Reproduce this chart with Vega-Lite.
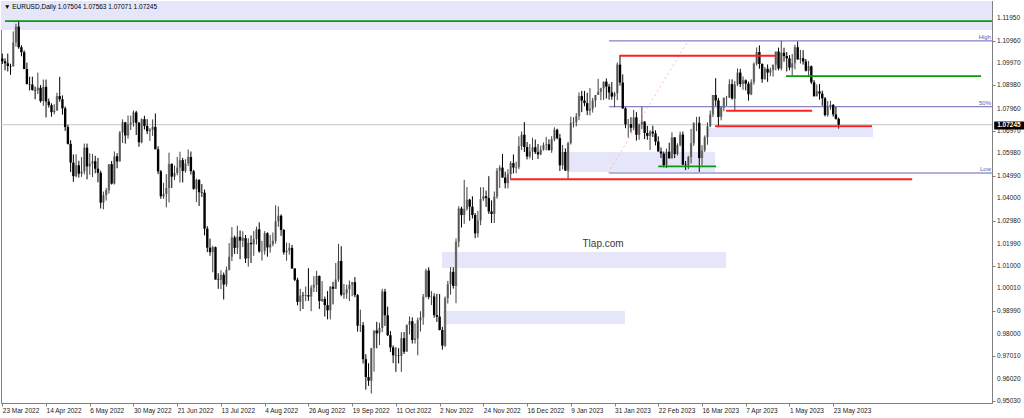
{
"$schema":"https://vega.github.io/schema/vega-lite/v6.json",
"width":991,"height":402,
"autosize":{"type":"none"},
"padding":{"left":1,"top":1,"right":32,"bottom":15},
"background":"#ffffff",
"config":{"view":{"stroke":"#808080","strokeWidth":1},"font":"Liberation Sans"},
"datasets":{
"yticks":[{"p":0.9503},{"p":0.9602},{"p":0.9701},{"p":0.98},{"p":0.9899},{"p":1.0001},{"p":1.01},{"p":1.0199},{"p":1.0298},{"p":1.04},{"p":1.0499},{"p":1.0598},{"p":1.0697},{"p":1.0796},{"p":1.0898},{"p":1.0997},{"p":1.1096},{"p":1.1195}],
"zones":[
{"name":"top","i":-0.476,"i2":362.1,"p":1.1143,"p2":1.12714},
{"name":"jan-mar","i":206.6,"i2":260.8,"p":1.0515,"p2":1.0604},
{"name":"may","i":258.2,"i2":318.6,"p":1.067,"p2":1.071},
{"name":"nov-a","i":160.9,"i2":264.8,"p":1.0091,"p2":1.0162},
{"name":"nov-b","i":161.3,"i2":227.8,"p":0.9843,"p2":0.9901}
],
"levels":[
{"kind":"bid","i":-0.476,"i2":362.1,"p":1.07245,"label":""},
{"kind":"support","i":1,"i2":362.1,"p":1.1182,"label":""},
{"kind":"resistance","i":226,"i2":282.7,"p":1.1029,"label":""},
{"kind":"resistance","i":185.8,"i2":332.9,"p":1.0483,"label":""},
{"kind":"resistance","i":264.8,"i2":296.3,"p":1.0786,"label":""},
{"kind":"resistance","i":260.8,"i2":318.2,"p":1.0718,"label":""},
{"kind":"support","i":286.7,"i2":358.1,"p":1.0939,"label":""},
{"kind":"support","i":240,"i2":261.2,"p":1.054,"label":""},
{"kind":"fibo","i":222,"i2":362.1,"p":1.1095,"label":"High"},
{"kind":"fibo","i":222,"i2":362.1,"p":1.0804,"label":"50%"},
{"kind":"fibo","i":222,"i2":362.1,"p":1.0511,"label":"Low"}
],
"trend":[{"i":221.6,"p":1.0511,"i2":250.9,"p2":1.1095}],
"notes":[
{"role":"header","text":"▼ EURUSD,Daily  1.07504 1.07563 1.07071 1.07245","i":0.6,"p":1.12448},
{"role":"watermark","text":"Tlap.com","i":219.8,"p":1.0197}
],
"tag":[{"i":362.9,"i2":373.8,"p":1.07033,"p2":1.07386,"ti":364.0,"tp":1.0721,"text":"1.07245"}],
"candles":[
{"i":0,"o":1.1017,"h":1.1039,"l":1.0993,"c":1.1005},
{"i":1,"o":1.1005,"h":1.1018,"l":1.0965,"c":1.0996},
{"i":2,"o":1.0996,"h":1.1039,"l":1.0960,"c":1.0984},
{"i":3,"o":1.0984,"h":1.0994,"l":1.0945,"c":1.0982},
{"i":4,"o":1.0982,"h":1.1137,"l":1.0982,"c":1.1088},
{"i":5,"o":1.1088,"h":1.1171,"l":1.1070,"c":1.1158},
{"i":6,"o":1.1158,"h":1.1185,"l":1.1060,"c":1.1067},
{"i":7,"o":1.1067,"h":1.1076,"l":1.1027,"c":1.1045},
{"i":8,"o":1.1045,"h":1.1053,"l":1.0970,"c":1.0971},
{"i":9,"o":1.0971,"h":1.0999,"l":1.0903,"c":1.0904},
{"i":10,"o":1.0904,"h":1.0937,"l":1.0876,"c":1.0902},
{"i":11,"o":1.0902,"h":1.0937,"l":1.0875,"c":1.0878},
{"i":12,"o":1.0878,"h":1.0893,"l":1.0837,"c":1.0876},
{"i":13,"o":1.0876,"h":1.0955,"l":1.0860,"c":1.0888},
{"i":14,"o":1.0888,"h":1.0900,"l":1.0822,"c":1.0829},
{"i":15,"o":1.0829,"h":1.0924,"l":1.0808,"c":1.0892},
{"i":16,"o":1.0892,"h":1.0924,"l":1.0757,"c":1.0827},
{"i":17,"o":1.0827,"h":1.0840,"l":1.0800,"c":1.0811},
{"i":18,"o":1.0811,"h":1.0819,"l":1.0760,"c":1.0780},
{"i":19,"o":1.0780,"h":1.0815,"l":1.0770,"c":1.0787},
{"i":20,"o":1.0787,"h":1.0866,"l":1.0786,"c":1.0851},
{"i":21,"o":1.0851,"h":1.0936,"l":1.0826,"c":1.0837},
{"i":22,"o":1.0837,"h":1.0854,"l":1.0769,"c":1.0797},
{"i":23,"o":1.0797,"h":1.0805,"l":1.0697,"c":1.0714},
{"i":24,"o":1.0714,"h":1.0724,"l":1.0637,"c":1.0640},
{"i":25,"o":1.0640,"h":1.0656,"l":1.0515,"c":1.0557},
{"i":26,"o":1.0557,"h":1.0593,"l":1.0472,"c":1.0497},
{"i":27,"o":1.0497,"h":1.0594,"l":1.0492,"c":1.0545},
{"i":28,"o":1.0545,"h":1.0565,"l":1.0491,"c":1.0508},
{"i":29,"o":1.0508,"h":1.0581,"l":1.0494,"c":1.0518},
{"i":30,"o":1.0518,"h":1.0641,"l":1.0505,"c":1.0623},
{"i":31,"o":1.0623,"h":1.0641,"l":1.0483,"c":1.0540},
{"i":32,"o":1.0540,"h":1.0598,"l":1.0503,"c":1.0552},
{"i":33,"o":1.0552,"h":1.0595,"l":1.0493,"c":1.0563},
{"i":34,"o":1.0563,"h":1.0587,"l":1.0510,"c":1.0530},
{"i":35,"o":1.0530,"h":1.0578,"l":1.0470,"c":1.0512},
{"i":36,"o":1.0512,"h":1.0521,"l":1.0354,"c":1.0380},
{"i":37,"o":1.0380,"h":1.0429,"l":1.0350,"c":1.0413},
{"i":38,"o":1.0413,"h":1.0445,"l":1.0389,"c":1.0435},
{"i":39,"o":1.0435,"h":1.0550,"l":1.0420,"c":1.0550},
{"i":40,"o":1.0550,"h":1.0564,"l":1.0460,"c":1.0464},
{"i":41,"o":1.0464,"h":1.0606,"l":1.0460,"c":1.0585},
{"i":42,"o":1.0585,"h":1.0599,"l":1.0532,"c":1.0562},
{"i":43,"o":1.0562,"h":1.0697,"l":1.0562,"c":1.0690},
{"i":44,"o":1.0690,"h":1.0748,"l":1.0644,"c":1.0735},
{"i":45,"o":1.0735,"h":1.0737,"l":1.0641,"c":1.0677},
{"i":46,"o":1.0677,"h":1.0765,"l":1.0663,"c":1.0725},
{"i":47,"o":1.0725,"h":1.0765,"l":1.0701,"c":1.0733},
{"i":48,"o":1.0733,"h":1.0787,"l":1.0716,"c":1.0779},
{"i":49,"o":1.0779,"h":1.0786,"l":1.0679,"c":1.0733},
{"i":50,"o":1.0733,"h":1.0737,"l":1.0627,"c":1.0647},
{"i":51,"o":1.0647,"h":1.0752,"l":1.0642,"c":1.0749},
{"i":52,"o":1.0749,"h":1.0764,"l":1.0703,"c":1.0719},
{"i":53,"o":1.0719,"h":1.0749,"l":1.0683,"c":1.0696},
{"i":54,"o":1.0696,"h":1.0710,"l":1.0653,"c":1.0702},
{"i":55,"o":1.0702,"h":1.0748,"l":1.0675,"c":1.0715},
{"i":56,"o":1.0715,"h":1.0774,"l":1.0616,"c":1.0616},
{"i":57,"o":1.0616,"h":1.0629,"l":1.0506,"c":1.0518},
{"i":58,"o":1.0518,"h":1.0524,"l":1.0397,"c":1.0408},
{"i":59,"o":1.0408,"h":1.0468,"l":1.0397,"c":1.0418},
{"i":60,"o":1.0418,"h":1.0506,"l":1.0359,"c":1.0445},
{"i":61,"o":1.0445,"h":1.0601,"l":1.0381,"c":1.0551},
{"i":62,"o":1.0551,"h":1.0554,"l":1.0445,"c":1.0495},
{"i":63,"o":1.0495,"h":1.0544,"l":1.0480,"c":1.0511},
{"i":64,"o":1.0511,"h":1.0582,"l":1.0501,"c":1.0535},
{"i":65,"o":1.0535,"h":1.0605,"l":1.0469,"c":1.0568},
{"i":66,"o":1.0568,"h":1.0578,"l":1.0469,"c":1.0520},
{"i":67,"o":1.0520,"h":1.0572,"l":1.0512,"c":1.0553},
{"i":68,"o":1.0553,"h":1.0615,"l":1.0542,"c":1.0582},
{"i":69,"o":1.0582,"h":1.0606,"l":1.0504,"c":1.0519},
{"i":70,"o":1.0519,"h":1.0525,"l":1.0437,"c":1.0441},
{"i":71,"o":1.0441,"h":1.0486,"l":1.0382,"c":1.0480},
{"i":72,"o":1.0480,"h":1.0484,"l":1.0365,"c":1.0426},
{"i":73,"o":1.0426,"h":1.0462,"l":1.0405,"c":1.0424},
{"i":74,"o":1.0424,"h":1.0438,"l":1.0235,"c":1.0265},
{"i":75,"o":1.0265,"h":1.0276,"l":1.0161,"c":1.0181},
{"i":76,"o":1.0181,"h":1.0221,"l":1.0145,"c":1.0161},
{"i":77,"o":1.0161,"h":1.0189,"l":1.0072,"c":1.0183},
{"i":78,"o":1.0183,"h":1.0186,"l":1.0040,"c":1.0040},
{"i":79,"o":1.0040,"h":1.0068,"l":0.9999,"c":1.0038},
{"i":80,"o":1.0038,"h":1.0081,"l":0.9998,"c":1.0061},
{"i":81,"o":1.0061,"h":1.0071,"l":0.9952,"c":1.0018},
{"i":82,"o":1.0018,"h":1.0097,"l":1.0008,"c":1.0083},
{"i":83,"o":1.0083,"h":1.0201,"l":1.0080,"c":1.0141},
{"i":84,"o":1.0141,"h":1.0272,"l":1.0122,"c":1.0226},
{"i":85,"o":1.0226,"h":1.0234,"l":1.0153,"c":1.0180},
{"i":86,"o":1.0180,"h":1.0278,"l":1.0153,"c":1.0229},
{"i":87,"o":1.0229,"h":1.0257,"l":1.0130,"c":1.0212},
{"i":88,"o":1.0212,"h":1.0254,"l":1.0184,"c":1.0223},
{"i":89,"o":1.0223,"h":1.0237,"l":1.0113,"c":1.0133},
{"i":90,"o":1.0133,"h":1.0223,"l":1.0097,"c":1.0202},
{"i":91,"o":1.0202,"h":1.0235,"l":1.0113,"c":1.0196},
{"i":92,"o":1.0196,"h":1.0254,"l":1.0145,"c":1.0219},
{"i":93,"o":1.0219,"h":1.0274,"l":1.0195,"c":1.0262},
{"i":94,"o":1.0262,"h":1.0293,"l":1.0159,"c":1.0164},
{"i":95,"o":1.0164,"h":1.0211,"l":1.0124,"c":1.0166},
{"i":96,"o":1.0166,"h":1.0254,"l":1.0150,"c":1.0245},
{"i":97,"o":1.0245,"h":1.0249,"l":1.0141,"c":1.0182},
{"i":98,"o":1.0182,"h":1.0237,"l":1.0159,"c":1.0195},
{"i":99,"o":1.0195,"h":1.0248,"l":1.0187,"c":1.0211},
{"i":100,"o":1.0211,"h":1.0368,"l":1.0199,"c":1.0297},
{"i":101,"o":1.0297,"h":1.0363,"l":1.0273,"c":1.0322},
{"i":102,"o":1.0322,"h":1.0328,"l":1.0233,"c":1.0259},
{"i":103,"o":1.0259,"h":1.0263,"l":1.0150,"c":1.0160},
{"i":104,"o":1.0160,"h":1.0203,"l":1.0123,"c":1.0168},
{"i":105,"o":1.0168,"h":1.0201,"l":1.0150,"c":1.0180},
{"i":106,"o":1.0180,"h":1.0193,"l":1.0088,"c":1.0089},
{"i":107,"o":1.0089,"h":1.0090,"l":1.0033,"c":1.0039},
{"i":108,"o":1.0039,"h":1.0048,"l":0.9926,"c":0.9941},
{"i":109,"o":0.9941,"h":0.9999,"l":0.9900,"c":0.9969},
{"i":110,"o":0.9969,"h":0.9985,"l":0.9910,"c":0.9967},
{"i":111,"o":0.9967,"h":1.0009,"l":0.9945,"c":0.9971},
{"i":112,"o":0.9971,"h":1.0090,"l":0.9946,"c":0.9965},
{"i":113,"o":0.9965,"h":1.0015,"l":0.9900,"c":1.0004},
{"i":114,"o":1.0004,"h":1.0055,"l":0.9985,"c":1.0017},
{"i":115,"o":1.0017,"h":1.0079,"l":0.9985,"c":1.0056},
{"i":116,"o":1.0056,"h":1.0058,"l":0.9910,"c":0.9945},
{"i":117,"o":0.9945,"h":1.0033,"l":0.9941,"c":0.9954},
{"i":118,"o":0.9954,"h":0.9965,"l":0.9876,"c":0.9927},
{"i":119,"o":0.9927,"h":0.9989,"l":0.9864,"c":0.9904},
{"i":120,"o":0.9904,"h":1.0011,"l":0.9864,"c":1.0008},
{"i":121,"o":1.0008,"h":1.0030,"l":0.9930,"c":0.9999},
{"i":122,"o":0.9999,"h":1.0113,"l":0.9999,"c":1.0040},
{"i":123,"o":1.0040,"h":1.0198,"l":1.0030,"c":1.0122},
{"i":124,"o":1.0122,"h":1.0187,"l":0.9966,"c":0.9973},
{"i":125,"o":0.9973,"h":1.0020,"l":0.9955,"c":0.9980},
{"i":126,"o":0.9980,"h":1.0017,"l":0.9955,"c":0.9997},
{"i":127,"o":0.9997,"h":1.0036,"l":0.9945,"c":1.0017},
{"i":128,"o":1.0017,"h":1.0030,"l":0.9966,"c":1.0028},
{"i":129,"o":1.0028,"h":1.0051,"l":0.9962,"c":0.9971},
{"i":130,"o":0.9971,"h":0.9976,"l":0.9810,"c":0.9836},
{"i":131,"o":0.9836,"h":0.9907,"l":0.9808,"c":0.9838},
{"i":132,"o":0.9838,"h":0.9852,"l":0.9669,"c":0.9688},
{"i":133,"o":0.9688,"h":0.9710,"l":0.9553,"c":0.9609},
{"i":134,"o":0.9609,"h":0.9670,"l":0.9570,"c":0.9593},
{"i":135,"o":0.9593,"h":0.9738,"l":0.9536,"c":0.9736},
{"i":136,"o":0.9736,"h":0.9815,"l":0.9633,"c":0.9815},
{"i":137,"o":0.9815,"h":0.9853,"l":0.9736,"c":0.9802},
{"i":138,"o":0.9802,"h":0.9849,"l":0.9750,"c":0.9826},
{"i":139,"o":0.9826,"h":0.9999,"l":0.9808,"c":0.9987},
{"i":140,"o":0.9987,"h":0.9999,"l":0.9835,"c":0.9882},
{"i":141,"o":0.9882,"h":0.9920,"l":0.9790,"c":0.9794},
{"i":142,"o":0.9794,"h":0.9812,"l":0.9720,"c":0.9740},
{"i":143,"o":0.9740,"h":0.9749,"l":0.9670,"c":0.9705},
{"i":144,"o":0.9705,"h":0.9741,"l":0.9632,"c":0.9704},
{"i":145,"o":0.9704,"h":0.9737,"l":0.9669,"c":0.9702},
{"i":146,"o":0.9702,"h":0.9807,"l":0.9632,"c":0.9781},
{"i":147,"o":0.9781,"h":0.9808,"l":0.9711,"c":0.9721},
{"i":148,"o":0.9721,"h":0.9841,"l":0.9721,"c":0.9840},
{"i":149,"o":0.9840,"h":0.9877,"l":0.9797,"c":0.9856},
{"i":150,"o":0.9856,"h":0.9873,"l":0.9757,"c":0.9773},
{"i":151,"o":0.9773,"h":0.9846,"l":0.9757,"c":0.9780},
{"i":152,"o":0.9780,"h":0.9871,"l":0.9705,"c":0.9860},
{"i":153,"o":0.9860,"h":0.9900,"l":0.9810,"c":0.9873},
{"i":154,"o":0.9873,"h":0.9976,"l":0.9840,"c":0.9964},
{"i":155,"o":0.9964,"h":1.0088,"l":0.9960,"c":1.0080},
{"i":156,"o":1.0080,"h":1.0094,"l":0.9953,"c":0.9963},
{"i":157,"o":0.9963,"h":0.9989,"l":0.9927,"c":0.9965},
{"i":158,"o":0.9965,"h":0.9979,"l":0.9871,"c":0.9883},
{"i":159,"o":0.9883,"h":0.9977,"l":0.9853,"c":0.9876},
{"i":160,"o":0.9876,"h":0.9976,"l":0.9815,"c":0.9817},
{"i":161,"o":0.9817,"h":0.9831,"l":0.9730,"c":0.9748},
{"i":162,"o":0.9748,"h":0.9965,"l":0.9742,"c":0.9958},
{"i":163,"o":0.9958,"h":1.0034,"l":0.9934,"c":1.0019},
{"i":164,"o":1.0019,"h":1.0095,"l":0.9973,"c":1.0074},
{"i":165,"o":1.0074,"h":1.0094,"l":1.0000,"c":1.0012},
{"i":166,"o":1.0012,"h":1.0222,"l":0.9935,"c":1.0207},
{"i":167,"o":1.0207,"h":1.0364,"l":1.0183,"c":1.0354},
{"i":168,"o":1.0354,"h":1.0362,"l":1.0270,"c":1.0325},
{"i":169,"o":1.0325,"h":1.0481,"l":1.0286,"c":1.0352},
{"i":170,"o":1.0352,"h":1.0449,"l":1.0345,"c":1.0393},
{"i":171,"o":1.0393,"h":1.0397,"l":1.0300,"c":1.0362},
{"i":172,"o":1.0362,"h":1.0408,"l":1.0310,"c":1.0325},
{"i":173,"o":1.0325,"h":1.0334,"l":1.0223,"c":1.0244},
{"i":174,"o":1.0244,"h":1.0344,"l":1.0226,"c":1.0301},
{"i":175,"o":1.0301,"h":1.0448,"l":1.0280,"c":1.0396},
{"i":176,"o":1.0396,"h":1.0448,"l":1.0388,"c":1.0408},
{"i":177,"o":1.0408,"h":1.0433,"l":1.0361,"c":1.0400},
{"i":178,"o":1.0400,"h":1.0497,"l":1.0330,"c":1.0341},
{"i":179,"o":1.0341,"h":1.0390,"l":1.0290,"c":1.0330},
{"i":180,"o":1.0330,"h":1.0429,"l":1.0290,"c":1.0406},
{"i":181,"o":1.0406,"h":1.0533,"l":1.0397,"c":1.0522},
{"i":182,"o":1.0522,"h":1.0545,"l":1.0445,"c":1.0535},
{"i":183,"o":1.0535,"h":1.0595,"l":1.0490,"c":1.0491},
{"i":184,"o":1.0491,"h":1.0517,"l":1.0443,"c":1.0466},
{"i":185,"o":1.0466,"h":1.0528,"l":1.0443,"c":1.0506},
{"i":186,"o":1.0506,"h":1.0564,"l":1.0485,"c":1.0555},
{"i":187,"o":1.0555,"h":1.0593,"l":1.0509,"c":1.0535},
{"i":188,"o":1.0535,"h":1.0561,"l":1.0510,"c":1.0537},
{"i":189,"o":1.0537,"h":1.0673,"l":1.0528,"c":1.0630},
{"i":190,"o":1.0630,"h":1.0695,"l":1.0613,"c":1.0680},
{"i":191,"o":1.0680,"h":1.0736,"l":1.0604,"c":1.0626},
{"i":192,"o":1.0626,"h":1.0648,"l":1.0571,"c":1.0584},
{"i":193,"o":1.0584,"h":1.0639,"l":1.0575,"c":1.0606},
{"i":194,"o":1.0606,"h":1.0667,"l":1.0568,"c":1.0625},
{"i":195,"o":1.0625,"h":1.0659,"l":1.0595,"c":1.0603},
{"i":196,"o":1.0603,"h":1.0639,"l":1.0573,"c":1.0593},
{"i":197,"o":1.0593,"h":1.0632,"l":1.0590,"c":1.0614},
{"i":198,"o":1.0614,"h":1.0646,"l":1.0610,"c":1.0635},
{"i":199,"o":1.0635,"h":1.0671,"l":1.0611,"c":1.0638},
{"i":200,"o":1.0638,"h":1.0660,"l":1.0611,"c":1.0612},
{"i":201,"o":1.0612,"h":1.0674,"l":1.0600,"c":1.0660},
{"i":202,"o":1.0660,"h":1.0713,"l":1.0651,"c":1.0702},
{"i":203,"o":1.0702,"h":1.0707,"l":1.0660,"c":1.0665},
{"i":204,"o":1.0665,"h":1.0684,"l":1.0520,"c":1.0545},
{"i":205,"o":1.0545,"h":1.0635,"l":1.0527,"c":1.0604},
{"i":206,"o":1.0604,"h":1.0620,"l":1.0520,"c":1.0522},
{"i":207,"o":1.0522,"h":1.0649,"l":1.0483,"c":1.0643},
{"i":208,"o":1.0643,"h":1.0760,"l":1.0637,"c":1.0733},
{"i":209,"o":1.0733,"h":1.0758,"l":1.0712,"c":1.0736},
{"i":210,"o":1.0736,"h":1.0776,"l":1.0717,"c":1.0762},
{"i":211,"o":1.0762,"h":1.0867,"l":1.0745,"c":1.0851},
{"i":212,"o":1.0851,"h":1.0874,"l":1.0780,"c":1.0831},
{"i":213,"o":1.0831,"h":1.0874,"l":1.0806,"c":1.0820},
{"i":214,"o":1.0820,"h":1.0866,"l":1.0767,"c":1.0787},
{"i":215,"o":1.0787,"h":1.0887,"l":1.0766,"c":1.0795},
{"i":216,"o":1.0795,"h":1.0843,"l":1.0778,"c":1.0832},
{"i":217,"o":1.0832,"h":1.0856,"l":1.0802,"c":1.0856},
{"i":218,"o":1.0856,"h":1.0927,"l":1.0856,"c":1.0870},
{"i":219,"o":1.0870,"h":1.0888,"l":1.0833,"c":1.0885},
{"i":220,"o":1.0885,"h":1.0915,"l":1.0834,"c":1.0915},
{"i":221,"o":1.0915,"h":1.0929,"l":1.0840,"c":1.0893},
{"i":222,"o":1.0893,"h":1.0905,"l":1.0835,"c":1.0867},
{"i":223,"o":1.0867,"h":1.0913,"l":1.0835,"c":1.0849},
{"i":224,"o":1.0849,"h":1.0870,"l":1.0802,"c":1.0863},
{"i":225,"o":1.0863,"h":1.1000,"l":1.0833,"c":1.0990},
{"i":226,"o":1.0990,"h":1.1033,"l":1.0897,"c":1.0911},
{"i":227,"o":1.0911,"h":1.0947,"l":1.0794,"c":1.0797},
{"i":228,"o":1.0797,"h":1.0802,"l":1.0709,"c":1.0726},
{"i":229,"o":1.0726,"h":1.0750,"l":1.0668,"c":1.0727},
{"i":230,"o":1.0727,"h":1.0758,"l":1.0690,"c":1.0711},
{"i":231,"o":1.0711,"h":1.0790,"l":1.0700,"c":1.0757},
{"i":232,"o":1.0757,"h":1.0780,"l":1.0654,"c":1.0680},
{"i":233,"o":1.0680,"h":1.0730,"l":1.0658,"c":1.0725},
{"i":234,"o":1.0725,"h":1.0804,"l":1.0705,"c":1.0738},
{"i":235,"o":1.0738,"h":1.0740,"l":1.0661,"c":1.0688},
{"i":236,"o":1.0688,"h":1.0719,"l":1.0658,"c":1.0675},
{"i":237,"o":1.0675,"h":1.0700,"l":1.0613,"c":1.0694},
{"i":238,"o":1.0694,"h":1.0720,"l":1.0670,"c":1.0686},
{"i":239,"o":1.0686,"h":1.0700,"l":1.0633,"c":1.0650},
{"i":240,"o":1.0650,"h":1.0673,"l":1.0606,"c":1.0606},
{"i":241,"o":1.0606,"h":1.0624,"l":1.0577,"c":1.0597},
{"i":242,"o":1.0597,"h":1.0606,"l":1.0536,"c":1.0546},
{"i":243,"o":1.0546,"h":1.0619,"l":1.0533,"c":1.0605},
{"i":244,"o":1.0605,"h":1.0645,"l":1.0575,"c":1.0576},
{"i":245,"o":1.0576,"h":1.0691,"l":1.0575,"c":1.0668},
{"i":246,"o":1.0668,"h":1.0670,"l":1.0577,"c":1.0595},
{"i":247,"o":1.0595,"h":1.0642,"l":1.0588,"c":1.0635},
{"i":248,"o":1.0635,"h":1.0694,"l":1.0629,"c":1.0681},
{"i":249,"o":1.0681,"h":1.0694,"l":1.0546,"c":1.0548},
{"i":250,"o":1.0548,"h":1.0564,"l":1.0524,"c":1.0546},
{"i":251,"o":1.0546,"h":1.0587,"l":1.0528,"c":1.0582},
{"i":252,"o":1.0582,"h":1.0706,"l":1.0553,"c":1.0643},
{"i":253,"o":1.0643,"h":1.0735,"l":1.0631,"c":1.0732},
{"i":254,"o":1.0732,"h":1.0759,"l":1.0696,"c":1.0733},
{"i":255,"o":1.0733,"h":1.0760,"l":1.0516,"c":1.0577},
{"i":256,"o":1.0577,"h":1.0634,"l":1.0545,"c":1.0611},
{"i":257,"o":1.0611,"h":1.0677,"l":1.0604,"c":1.0669},
{"i":258,"o":1.0669,"h":1.0735,"l":1.0636,"c":1.0718},
{"i":259,"o":1.0718,"h":1.0787,"l":1.0713,"c":1.0770},
{"i":260,"o":1.0770,"h":1.0856,"l":1.0758,"c":1.0856},
{"i":261,"o":1.0856,"h":1.0930,"l":1.0808,"c":1.0832},
{"i":262,"o":1.0832,"h":1.0843,"l":1.0713,"c":1.0759},
{"i":263,"o":1.0759,"h":1.0807,"l":1.0744,"c":1.0800},
{"i":264,"o":1.0800,"h":1.0845,"l":1.0784,"c":1.0843},
{"i":265,"o":1.0843,"h":1.0852,"l":1.0807,"c":1.0844},
{"i":266,"o":1.0844,"h":1.0925,"l":1.0843,"c":1.0904},
{"i":267,"o":1.0904,"h":1.0925,"l":1.0835,"c":1.0840},
{"i":268,"o":1.0840,"h":1.0918,"l":1.0788,"c":1.0902},
{"i":269,"o":1.0902,"h":1.0973,"l":1.0895,"c":1.0955},
{"i":270,"o":1.0955,"h":1.0972,"l":1.0891,"c":1.0904},
{"i":271,"o":1.0904,"h":1.0938,"l":1.0879,"c":1.0921},
{"i":272,"o":1.0921,"h":1.0925,"l":1.0876,"c":1.0906},
{"i":273,"o":1.0906,"h":1.0915,"l":1.0831,"c":1.0859},
{"i":274,"o":1.0859,"h":1.0925,"l":1.0855,"c":1.0912},
{"i":275,"o":1.0912,"h":1.1000,"l":1.0902,"c":1.0994},
{"i":276,"o":1.0994,"h":1.1066,"l":1.0986,"c":1.1046},
{"i":277,"o":1.1046,"h":1.1075,"l":1.0972,"c":1.0993},
{"i":278,"o":1.0993,"h":1.0996,"l":1.0910,"c":1.0926},
{"i":279,"o":1.0926,"h":1.0980,"l":1.0924,"c":1.0972},
{"i":280,"o":1.0972,"h":1.0991,"l":1.0914,"c":1.0955},
{"i":281,"o":1.0955,"h":1.0977,"l":1.0939,"c":1.0966},
{"i":282,"o":1.0966,"h":1.0990,"l":1.0937,"c":1.0990},
{"i":283,"o":1.0990,"h":1.1048,"l":1.0965,"c":1.1048},
{"i":284,"o":1.1048,"h":1.1065,"l":1.0965,"c":1.0973},
{"i":285,"o":1.0973,"h":1.1095,"l":1.0965,"c":1.1043},
{"i":286,"o":1.1043,"h":1.1065,"l":1.1003,"c":1.1028},
{"i":287,"o":1.1028,"h":1.1046,"l":1.0960,"c":1.1018},
{"i":288,"o":1.1018,"h":1.1032,"l":1.0965,"c":1.0977},
{"i":289,"o":1.0977,"h":1.1037,"l":1.0943,"c":1.0996},
{"i":290,"o":1.0996,"h":1.1078,"l":1.0969,"c":1.1067},
{"i":291,"o":1.1067,"h":1.1092,"l":1.1012,"c":1.1013},
{"i":292,"o":1.1013,"h":1.1055,"l":1.0995,"c":1.1018},
{"i":293,"o":1.1018,"h":1.1054,"l":1.0990,"c":1.1004},
{"i":294,"o":1.1004,"h":1.1015,"l":1.0960,"c":1.0963},
{"i":295,"o":1.0963,"h":1.1006,"l":1.0939,"c":1.0983},
{"i":296,"o":1.0983,"h":1.0986,"l":1.0904,"c":1.0912},
{"i":297,"o":1.0912,"h":1.0922,"l":1.0850,"c":1.0850},
{"i":298,"o":1.0850,"h":1.0903,"l":1.0850,"c":1.0872},
{"i":299,"o":1.0872,"h":1.0904,"l":1.0835,"c":1.0862},
{"i":300,"o":1.0862,"h":1.0875,"l":1.0808,"c":1.0841},
{"i":301,"o":1.0841,"h":1.0847,"l":1.0761,"c":1.0767},
{"i":302,"o":1.0767,"h":1.0829,"l":1.0760,"c":1.0806},
{"i":303,"o":1.0806,"h":1.0830,"l":1.0790,"c":1.0812},
{"i":304,"o":1.0812,"h":1.0816,"l":1.0760,"c":1.0770},
{"i":305,"o":1.0770,"h":1.0803,"l":1.0747,"c":1.0750},
{"i":306,"o":1.07504,"h":1.07563,"l":1.07071,"c":1.07245}
]
},
"layer":[
{"data":{"name":"zones"},"mark":{"type":"rect","color":"#e6e6fa"},
"encoding":{
"x":{"field":"i","type":"quantitative","title":null,"scale":{"domain":[-0.476,362.1],"nice":false,"zero":false},
"axis":{"values":[0,16,32,48,64,80,96,112,128,144,160,176,192,208,224,240,256,272,288,304],
"labelExpr":"['23 Mar 2022','14 Apr 2022','6 May 2022','30 May 2022','21 Jun 2022','13 Jul 2022','4 Aug 2022','26 Aug 2022','19 Sep 2022','11 Oct 2022','2 Nov 2022','24 Nov 2022','16 Dec 2022','9 Jan 2023','31 Jan 2023','22 Feb 2023','16 Mar 2023','7 Apr 2023','1 May 2023','23 May 2023'][round(datum.value / 16)]",
"labelAlign":"left","labelFont":"Liberation Sans","labelFontSize":6.5,"labelColor":"#1a1a1a","tickSize":3,"tickColor":"#808080","domainColor":"#808080","labelPadding":1,"grid":false,"labelOverlap":false,"labelFlush":false,"title":null}},
"x2":{"field":"i2"},
"y":{"field":"p","type":"quantitative","title":null,"scale":{"domain":[0.94942,1.12714],"nice":false,"zero":false},
"axis":{"orient":"right","values":[0.9503,0.9602,0.9701,0.98,0.9899,1.0001,1.01,1.0199,1.0298,1.04,1.0499,1.0598,1.0697,1.0796,1.0898,1.0997,1.1096,1.1195],
"labels":false,"tickSize":3,"tickColor":"#808080","domainColor":"#808080","grid":false,"title":null}},
"y2":{"field":"p2"}}},
{"data":{"name":"levels"},"transform":[{"filter":"datum.kind == 'bid' || datum.kind == 'fibo'"}],
"mark":{"type":"rule","strokeWidth":1},
"encoding":{
"x":{"field":"i","type":"quantitative","title":null,"scale":{"domain":[-0.476,362.1],"nice":false,"zero":false}},
"x2":{"field":"i2"},
"y":{"field":"p","type":"quantitative","title":null,"scale":{"domain":[0.94942,1.12714],"nice":false,"zero":false}},
"color":{"condition":{"test":"datum.kind == 'bid'","value":"#c4c4c4"},"value":"#6464b8"}}},
{"data":{"name":"trend"},"mark":{"type":"rule","color":"#ffbcbc","strokeDash":[2,3],"strokeWidth":1},
"encoding":{
"x":{"field":"i","type":"quantitative","title":null,"scale":{"domain":[-0.476,362.1],"nice":false,"zero":false}},
"x2":{"field":"i2"},
"y":{"field":"p","type":"quantitative","title":null,"scale":{"domain":[0.94942,1.12714],"nice":false,"zero":false}},
"y2":{"field":"p2"}}},
{"data":{"name":"candles"},"mark":{"type":"rule","strokeWidth":2.4,"strokeCap":"butt"},
"encoding":{
"x":{"field":"i","type":"quantitative","title":null,"scale":{"domain":[-0.476,362.1],"nice":false,"zero":false}},
"y":{"field":"o","type":"quantitative","title":null,"scale":{"domain":[0.94942,1.12714],"nice":false,"zero":false}},
"y2":{"field":"c"},
"color":{"condition":{"test":"datum.c >= datum.o","value":"#8e8e8e"},"value":"#000000"}}},
{"data":{"name":"candles"},"mark":{"type":"rule","strokeWidth":1},
"encoding":{
"x":{"field":"i","type":"quantitative","title":null,"scale":{"domain":[-0.476,362.1],"nice":false,"zero":false}},
"y":{"field":"l","type":"quantitative","title":null,"scale":{"domain":[0.94942,1.12714],"nice":false,"zero":false}},
"y2":{"field":"h"},
"color":{"condition":{"test":"datum.c >= datum.o","value":"#404040"},"value":"#000000"}}},
{"data":{"name":"levels"},"transform":[{"filter":"datum.kind == 'resistance' || datum.kind == 'support'"}],
"mark":{"type":"rule"},
"encoding":{
"x":{"field":"i","type":"quantitative","title":null,"scale":{"domain":[-0.476,362.1],"nice":false,"zero":false}},
"x2":{"field":"i2"},
"y":{"field":"p","type":"quantitative","title":null,"scale":{"domain":[0.94942,1.12714],"nice":false,"zero":false}},
"color":{"condition":{"test":"datum.kind == 'resistance'","value":"#ff1f1f"},"value":"#0a990a"},
"strokeWidth":{"condition":{"test":"datum.kind == 'resistance'","value":2},"value":1.7}}},
{"data":{"name":"levels"},"transform":[{"filter":"datum.kind == 'fibo'"}],
"mark":{"type":"text","align":"right","baseline":"bottom","dx":-1,"dy":-1,"fontSize":6,"font":"Liberation Sans","color":"#5a5ab4"},
"encoding":{
"x":{"field":"i2","type":"quantitative","title":null,"scale":{"domain":[-0.476,362.1],"nice":false,"zero":false}},
"y":{"field":"p","type":"quantitative","title":null,"scale":{"domain":[0.94942,1.12714],"nice":false,"zero":false}},
"text":{"field":"label"}}},
{"data":{"name":"yticks"},
"mark":{"type":"text","align":"left","baseline":"middle","fontSize":6.5,"font":"Liberation Sans","color":"#1a1a1a"},
"encoding":{
"x":{"datum":363.95,"type":"quantitative","scale":{"domain":[-0.476,362.1],"nice":false,"zero":false}},
"y":{"field":"p","type":"quantitative","title":null,"scale":{"domain":[0.94942,1.12714],"nice":false,"zero":false}},
"text":{"field":"p","type":"quantitative","format":".5f"}}},
{"data":{"name":"notes"},"transform":[{"filter":"datum.role == 'header'"}],
"mark":{"type":"text","align":"left","baseline":"middle","fontSize":6.5,"font":"Liberation Sans","color":"#000000"},
"encoding":{
"x":{"field":"i","type":"quantitative","title":null,"scale":{"domain":[-0.476,362.1],"nice":false,"zero":false}},
"y":{"field":"p","type":"quantitative","title":null,"scale":{"domain":[0.94942,1.12714],"nice":false,"zero":false}},
"text":{"field":"text"}}},
{"data":{"name":"notes"},"transform":[{"filter":"datum.role == 'watermark'"}],
"mark":{"type":"text","align":"center","baseline":"middle","fontSize":10,"font":"Liberation Sans","color":"#3a3a3a"},
"encoding":{
"x":{"field":"i","type":"quantitative","title":null,"scale":{"domain":[-0.476,362.1],"nice":false,"zero":false}},
"y":{"field":"p","type":"quantitative","title":null,"scale":{"domain":[0.94942,1.12714],"nice":false,"zero":false}},
"text":{"field":"text"}}},
{"data":{"name":"tag"},"mark":{"type":"rect","color":"#000000"},
"encoding":{
"x":{"field":"i","type":"quantitative","title":null,"scale":{"domain":[-0.476,362.1],"nice":false,"zero":false}},
"x2":{"field":"i2"},
"y":{"field":"p","type":"quantitative","title":null,"scale":{"domain":[0.94942,1.12714],"nice":false,"zero":false}},
"y2":{"field":"p2"}}},
{"data":{"name":"tag"},"mark":{"type":"text","align":"left","baseline":"middle","fontSize":6.5,"fontWeight":"bold","font":"Liberation Sans","color":"#ffffff"},
"encoding":{
"x":{"field":"ti","type":"quantitative","title":null,"scale":{"domain":[-0.476,362.1],"nice":false,"zero":false}},
"y":{"field":"tp","type":"quantitative","title":null,"scale":{"domain":[0.94942,1.12714],"nice":false,"zero":false}},
"text":{"field":"text"}}}
]
}
